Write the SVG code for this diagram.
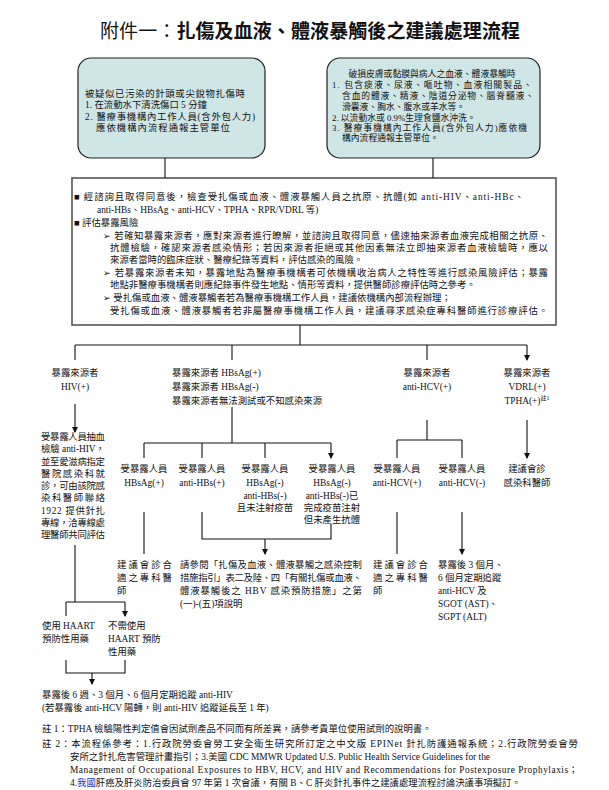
<svg xmlns="http://www.w3.org/2000/svg" width="609" height="790" viewBox="0 0 609 790">
<style>
text{font-family:"Liberation Serif","Noto Sans CJK TC",serif;font-size:9.4px;fill:#111}
.t{font-size:19px}
.s{font-size:8.8px}
.m{text-anchor:middle}
.box{fill:#cfe6e7;stroke:#222;stroke-width:1.2}
.ln{stroke:#111;stroke-width:1.1;fill:none}
</style>
<defs><marker id="a" markerWidth="6" markerHeight="6" refX="5" refY="3" orient="auto" markerUnits="userSpaceOnUse"><path d="M0,0L6,3L0,6z" fill="#111"/></marker></defs>
<rect width="609" height="790" fill="#fff"/>
<g id="title"><text class="t" x="100" y="38" textLength="420">附件一：<tspan font-weight="bold">扎傷及血液、體液暴觸後之建議處理流程</tspan></text></g>
<g id="box-needle"><rect class="box" x="78" y="58" width="187" height="100" rx="13"/>
<text x="85" y="97" textLength="160">被疑似已污染的針頭或尖銳物扎傷時</text>
<text x="85" y="108">1. 在流動水下清洗傷口 5 分鐘</text>
<text x="85" y="120" textLength="170">2. 醫療事機構內工作人員(含外包人力)</text>
<text x="96" y="131" textLength="134">應依機構內流程通報主管單位</text></g>
<g id="box-mucosa"><rect class="box" x="327" y="58" width="213" height="100" rx="13"/>
<text class="s m" x="432" y="77">破損皮膚或黏膜與病人之血液、體液暴觸時</text>
<text class="s" x="332" y="88" textLength="200">1. 包含痰液、尿液、嘔吐物、血液相關製品、</text>
<text class="s" x="342" y="99" textLength="192">含血的體液、精液、陰道分泌物、腦脊髓液、</text>
<text class="s" x="342" y="110">滑囊液、胸水、腹水或羊水等。</text>
<text class="s" x="332" y="121">2. 以流動水或 0.9%生理食鹽水沖洗。</text>
<text class="s" x="332" y="131" textLength="195">3. 醫療事機構內工作人員(含外包人力)應依機</text>
<text class="s" x="342" y="141">構內流程通報主管單位。</text></g>
<g id="box-main"><rect x="72" y="178" width="484" height="147" fill="#fff" stroke="#555" stroke-width="1.6"/>
<text x="74" y="200" textLength="450">■ 經諮詢且取得同意後，檢查受扎傷或血液、體液暴觸人員之抗原、抗體(如 anti-HIV、anti-HBc、</text>
<text x="97" y="213">anti-HBs、HBsAg、anti-HCV、TPHA、RPR/VDRL 等)</text>
<text x="74" y="226">■ 評估暴露風險</text>
<text x="103" y="239" textLength="445">➢ 若確知暴露來源者，應對來源者進行瞭解，並諮詢且取得同意，儘速抽來源者血液完成相關之抗原、</text>
<text x="110" y="251" textLength="438">抗體檢驗，確認來源者感染情形；若因來源者拒絕或其他因素無法立即抽來源者血液檢驗時，應以</text>
<text x="110" y="263">來源者當時的臨床症狀、醫療紀錄等資料，評估感染的風險。</text>
<text x="103" y="276" textLength="445">➢ 若暴露來源者未知，暴露地點為醫療事機構者可依機構收治病人之特性等進行感染風險評估；暴露</text>
<text x="110" y="288">地點非醫療事機構者則應紀錄事件發生地點、情形等資料，提供醫師診療評估時之參考。</text>
<text x="103" y="301">➢ 受扎傷或血液、體液暴觸者若為醫療事機構工作人員，建議依機構內部流程辦理；</text>
<text x="110" y="314" textLength="438">受扎傷或血液、體液暴觸者若非屬醫療事機構工作人員，建議尋求感染症專科醫師進行診療評估。</text></g>
<g id="connectors">
<path class="ln" d="M165,158V178M433,158V178M300,325V345M75,345H527"/>
<path class="ln" marker-end="url(#a)" d="M75,345V360M232,345V360M427,345V360M527,345V360"/>
<path class="ln" marker-end="url(#a)" d="M75,404V432"/>
<path class="ln" d="M232,407V443M144,443H331"/>
<path class="ln" marker-end="url(#a)" d="M144,443V458M202,443V458M265,443V458M331,443V458"/>
<path class="ln" d="M427,420V440M397,440H462"/>
<path class="ln" marker-end="url(#a)" d="M397,440V458M462,440V458M527,420V458"/>
<path class="ln" marker-end="url(#a)" d="M144,512V554M397,512V554M462,512V554"/>
<path class="ln" d="M202,512V539H331V524"/>
<path class="ln" marker-end="url(#a)" d="M265,539V554"/>
<path class="ln" d="M75,545V602M66,602H125"/>
<path class="ln" marker-end="url(#a)" d="M66,602V616M125,602V616"/>
<path class="ln" d="M66,660V673H125V660"/>
<path class="ln" marker-end="url(#a)" d="M92,673V684"/>
</g>
<g id="src-hiv"><text class="m" x="75" y="376">暴露來源者</text><text class="m" x="75" y="390">HIV(+)</text></g>
<g id="src-hbv"><text x="172" y="376">暴露來源者 HBsAg(+)</text><text x="172" y="390">暴露來源者 HBsAg(-)</text><text x="172" y="404">暴露來源者無法測試或不知感染來源</text></g>
<g id="src-hcv"><text class="m" x="427" y="376">暴露來源者</text><text class="m" x="427" y="390">anti-HCV(+)</text></g>
<g id="src-syph"><text class="m" x="527" y="376">暴露來源者</text><text class="m" x="527" y="390">VDRL(+)</text><text class="m" x="527" y="404">TPHA(+)<tspan font-size="6" dy="-4">註1</tspan></text></g>
<g id="hiv-test">
<text x="41" y="440" textLength="64">受暴露人員抽血</text>
<text x="41" y="452" textLength="64">檢驗 anti-HIV，</text>
<text x="41" y="465" textLength="64">並至愛滋病指定</text>
<text x="41" y="477" textLength="64">醫院感染科就</text>
<text x="41" y="489" textLength="64">診，可由該院感</text>
<text x="41" y="501" textLength="64">染科醫師聯絡</text>
<text x="41" y="514" textLength="64">1922 提供針扎</text>
<text x="41" y="526" textLength="64">專線，洽專線處</text>
<text x="41" y="538" textLength="64">理醫師共同評估</text></g>
<g id="hb1"><text class="m" x="144" y="472">受暴露人員</text><text class="m" x="144" y="486">HBsAg(+)</text></g>
<g id="hb2"><text class="m" x="202" y="472">受暴露人員</text><text class="m" x="202" y="486">anti-HBs(+)</text></g>
<g id="hb3"><text class="m" x="265" y="472">受暴露人員</text><text class="m" x="265" y="486">HBsAg(-)</text><text class="m" x="265" y="499">anti-HBs(-)</text><text class="m" x="265" y="511">且未注射疫苗</text></g>
<g id="hb4"><text class="m" x="332" y="472">受暴露人員</text><text class="m" x="332" y="486">HBsAg(-)</text><text class="m" x="332" y="499">anti-HBs(-)已</text><text class="m" x="332" y="511">完成疫苗注射</text><text class="m" x="332" y="523">但未產生抗體</text></g>
<g id="hc1"><text class="m" x="397" y="472">受暴露人員</text><text class="m" x="397" y="486">anti-HCV(+)</text></g>
<g id="hc2"><text class="m" x="462" y="472">受暴露人員</text><text class="m" x="462" y="486">anti-HCV(-)</text></g>
<g id="syph-r"><text class="m" x="527" y="472">建議會診</text><text class="m" x="527" y="486">感染科醫師</text></g>
<g id="hb-r1"><text x="117" y="568" textLength="55">建議會診合</text><text x="117" y="581" textLength="55">適之專科醫</text><text x="117" y="594">師</text></g>
<g id="hb-r2"><text x="180" y="568" textLength="182">請參閱「扎傷及血液、體液暴觸之感染控制</text><text x="180" y="581" textLength="182">措施指引」表二及陸、四「有關扎傷或血液、</text><text x="180" y="594" textLength="182">體液暴觸後之 HBV 感染預防措施」之第</text><text x="180" y="607">(一)-(五)項說明</text></g>
<g id="hc-r1"><text x="373" y="568" textLength="55">建議會診合</text><text x="373" y="581" textLength="55">適之專科醫</text><text x="373" y="594">師</text></g>
<g id="hc-r2"><text x="438" y="568">暴露後 3 個月、</text><text x="438" y="581">6 個月定期追蹤</text><text x="438" y="594">anti-HCV 及</text><text x="438" y="607">SGOT (AST)、</text><text x="438" y="620">SGPT (ALT)</text></g>
<g id="haart1"><text x="42" y="629">使用 HAART</text><text x="42" y="642">預防性用藥</text></g>
<g id="haart2"><text x="108" y="629">不需使用</text><text x="108" y="642">HAART 預防</text><text x="108" y="655">性用藥</text></g>
<g id="followup"><text x="42" y="698">暴露後 6 週、3 個月、6 個月定期追蹤 anti-HIV</text><text x="42" y="711">(若暴露後 anti-HCV 陽轉，則 anti-HIV 追蹤延長至 1 年)</text></g>
<g id="notes">
<text x="42" y="732">註 1：TPHA 檢驗陽性判定值會因試劑產品不同而有所差異，請參考貴單位使用試劑的說明書。</text>
<text x="42" y="747" textLength="536">註 2：本流程係參考：1.行政院勞委會勞工安全衛生研究所訂定之中文版 EPINet 針扎防護通報系統；2.行政院勞委會勞</text>
<text x="70" y="760">安所之針扎危害管理計畫指引；3.美國 CDC MMWR Updated U.S. Public Health Service Guidelines for the</text>
<text x="70" y="773" textLength="508">Management of Occupational Exposures to HBV, HCV, and HIV and Recommendations for Postexposure Prophylaxis；</text>
<text x="70" y="786">4.<tspan fill="#2233cc">我國</tspan>肝癌及肝炎防治委員會 97 年第 1 次會議，有關 B、C 肝炎針扎事件之建議處理流程討論決議事項擬訂。</text></g>
</svg>
